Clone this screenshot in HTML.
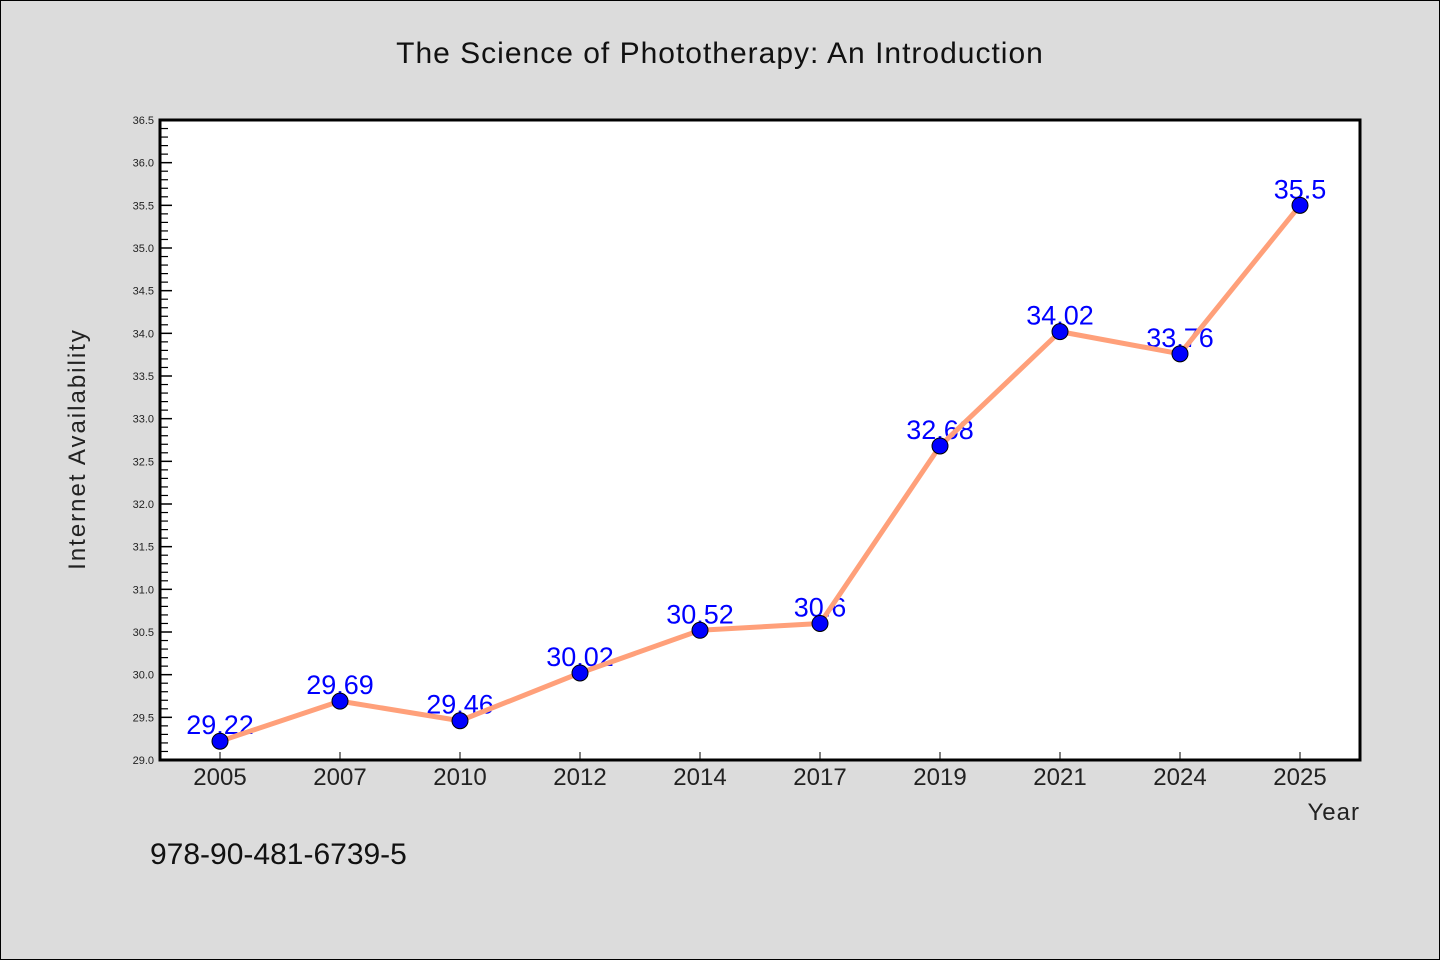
<!DOCTYPE html>
<html><head><meta charset="utf-8"><style>
html,body{margin:0;padding:0;background:#dcdcdc;}
svg{display:block;}
text{font-family:"WenQuanYi Zen Hei","Liberation Sans",sans-serif;}
</style></head><body>
<svg id="chart" width="1440" height="960" xmlns="http://www.w3.org/2000/svg">
<rect x="0.5" y="0.5" width="1439" height="959" fill="#dcdcdc" stroke="#000" stroke-width="1"/>
<text x="720" y="63" font-size="30" text-anchor="middle" fill="#111" letter-spacing="1">The Science of Phototherapy: An Introduction</text>
<rect x="160" y="120" width="1200" height="640" fill="#fff"/>
<g id="ticks"></g>
<g id="labels"></g>
<g id="series"></g>
<rect x="160" y="120" width="1200" height="640" fill="none" stroke="#000" stroke-width="3"/>
<text transform="translate(85,449) rotate(-90)" font-size="24" text-anchor="middle" fill="#222" letter-spacing="2">Internet Availability</text>
<text x="1360" y="820" font-size="24" text-anchor="end" fill="#222" letter-spacing="1">Year</text>
<text x="150" y="864" font-size="30" fill="#111">978-90-481-6739-5</text>
</svg>
<script>
const categories=["2005","2007","2010","2012","2014","2017","2019","2021","2024","2025"];
const values=[29.22,29.69,29.46,30.02,30.52,30.6,32.68,34.02,33.76,35.5];
const valueLabels=["29.22","29.69","29.46","30.02","30.52","30.6","32.68","34.02","33.76","35.5"];
const yTicks=["29.0","29.5","30.0","30.5","31.0","31.5","32.0","32.5","33.0","33.5","34.0","34.5","35.0","35.5","36.0","36.5"];
const yMin=29.0,yMax=36.5;
const L=160,R=1360,T=120,B=760;
const NS="http://www.w3.org/2000/svg";
function yS(v){return B-(v-yMin)/(yMax-yMin)*(B-T);}
function xS(i){const w=(R-L)/categories.length;return L+w*(i+0.5);}
function mk(tag,attrs,parent){const e=document.createElementNS(NS,tag);for(const k in attrs)e.setAttribute(k,attrs[k]);parent.appendChild(e);return e;}
const tg=document.getElementById('ticks'),lg=document.getElementById('labels'),sg=document.getElementById('series');
yTicks.forEach((t,i)=>{
  const v=parseFloat(t),y=yS(v);
  const ln=mk('line',{x1:L,x2:L+12,y1:y,y2:y,stroke:'#000','stroke-width':1.5},tg);
  
  
  const tx=mk('text',{x:L-6,y:y+4,'font-size':11,'text-anchor':'end',fill:'#222'},tg);
  tx.textContent=t;
  
  
  if(i<yTicks.length-1){for(let k=1;k<5;k++){const ym=yS(v+0.1*k);
    const m=mk('line',{x1:L,x2:L+8,y1:ym,y2:ym,stroke:'#000','stroke-width':1.2},tg);
    
    }}
});
categories.forEach((c,i)=>{
  const x=xS(i);
  const ln=mk('line',{x1:x,x2:x,y1:B-8,y2:B,stroke:'#000','stroke-width':1},tg);
  
  
  const tx=mk('text',{x:x,y:B+25,'font-size':24,'text-anchor':'middle',fill:'#222'},tg);
  tx.textContent=c;
  
  
});
values.forEach((v,i)=>{
  const tx=mk('text',{x:xS(i),y:yS(v)-7,'font-size':27,'text-anchor':'middle',fill:'#0000ff'},lg);
  tx.textContent=valueLabels[i];
  
  
});
const pts=values.map((v,i)=>xS(i)+','+yS(v)).join(' ');
const pl=mk('polyline',{points:pts,fill:'none',stroke:'#ffa07a','stroke-width':5,'stroke-linejoin':'round'},sg);


values.forEach((v,i)=>{
  const c=mk('circle',{cx:xS(i),cy:yS(v),r:8,fill:'#0000ff',stroke:'#000','stroke-width':1},sg);
  
  
});
</script>
</body></html>
